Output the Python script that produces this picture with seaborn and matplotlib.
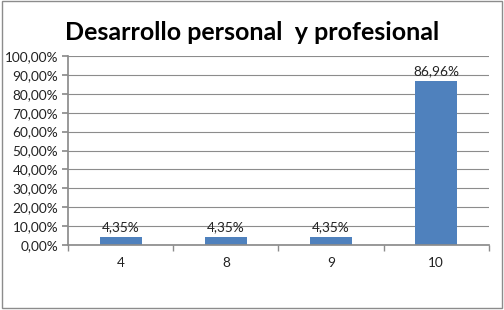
import matplotlib
matplotlib.use("Agg")
import matplotlib.pyplot as plt
import seaborn as sns
import pandas as pd
from matplotlib.patches import Rectangle
from matplotlib.ticker import FixedLocator, NullFormatter

categories = ["4", "8", "9", "10"]
values = [4.35, 4.35, 4.35, 86.96]
title = "Desarrollo personal  y profesional"

sns.set_theme(style="white")
plt.rcParams['font.family'] = ['Lato', 'DejaVu Sans']

df = pd.DataFrame({"cat": categories, "val": values})

fig = plt.figure(figsize=(5.04, 3.10), dpi=100)
ax = fig.add_axes([0.135, 0.21, 0.835, 0.609])

sns.barplot(data=df, x="cat", y="val", color="#4F81BD", width=0.4,
            saturation=1, ax=ax, edgecolor="none")

fs = 9.8
ax.set_ylim(0, 100)
ax.set_xlim(-0.5, 3.5)
ax.set_yticks(range(0, 101, 10))
ax.set_yticklabels([f"{v},00%" for v in range(0, 101, 10)], fontsize=fs, color="#222222")
ax.grid(axis="y", color="#8c8c8c", linewidth=0.8)
ax.set_axisbelow(True)
for s in ["top", "right"]:
    ax.spines[s].set_visible(False)
ax.spines["left"].set_color("#8c8c8c")
ax.spines["bottom"].set_color("#8c8c8c")
ax.tick_params(axis="y", which="major", length=4, color="#8c8c8c", pad=3, left=True)
ax.tick_params(axis="x", which="major", length=0, pad=9, labelsize=fs, labelcolor="#222222")
ax.xaxis.set_minor_locator(FixedLocator([-0.5, 0.5, 1.5, 2.5, 3.5]))
ax.xaxis.set_minor_formatter(NullFormatter())
ax.tick_params(axis="x", which="minor", length=4, color="#8c8c8c", bottom=True)
ax.set_xlabel("")
ax.set_ylabel("")

for i, v in enumerate(values):
    ax.text(i, v + 2, f"{v:.2f}".replace(".", ",") + "%", ha="center", va="bottom",
            fontsize=fs, color="#222222")

fig.text(0.5, 0.895, title, ha="center", va="center", fontsize=18, fontweight="bold",
         color="#000000")

fig.patches.append(Rectangle((0.003, 0.006), 0.993, 0.99, transform=fig.transFigure,
                             fill=False, edgecolor="#8c8c8c", linewidth=1))

fig.savefig("out.png", dpi=100)
